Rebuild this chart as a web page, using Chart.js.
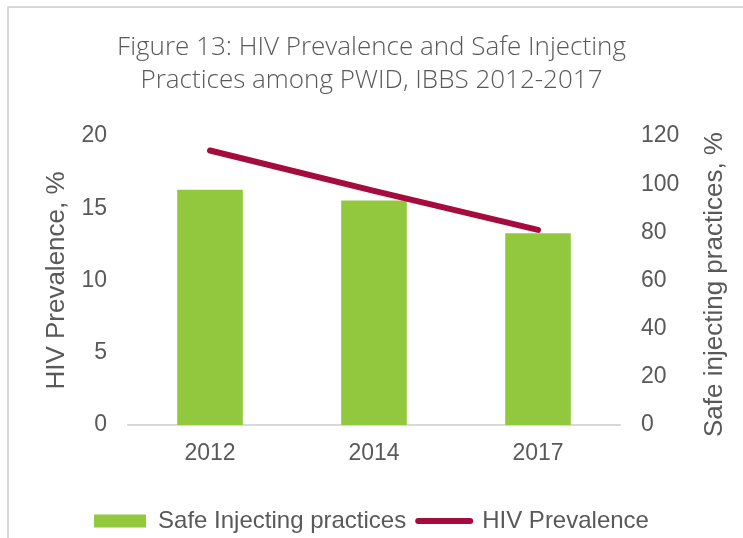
<!DOCTYPE html>
<html>
<head>
<meta charset="utf-8">
<script src="https://cdn.jsdelivr.net/npm/chart.js@4"></script>
<style>
    html, body { margin: 0; padding: 0; background: #fff; }
    #frame {
        position: absolute; left: 7px; top: 6px; width: 800px; height: 600px;
        border: 2px solid #d9d9d9; box-sizing: border-box;
    }
    #wrap { position: absolute; left: 0; top: 0; width: 743px; height: 538px; }
</style>
</head>
<body>
<div id="frame"></div>
<div id="wrap"><canvas id="fig13"></canvas></div>
<script>
// data
const years = ["2012", "2014", "2017"];
const safeInjecting = [97.7, 93.2, 79.6];   // right axis, %
const hivPrevalence = [19.0, 16.2, 13.5];   // left axis, %

const titleLines = ["Figure 13: HIV Prevalence and Safe Injecting", "Practices among PWID, IBBS 2012-2017"];
const leftTitle = "HIV Prevalence, %";
const rightTitle = "Safe injecting practices, %";

const GREEN = "#92c83e";
const RED = "#a50b3d";
const GREY = "#595959";
const font_family = "'Liberation Sans', Arial, sans-serif";

// right axis title reads bottom-to-top like the left one, so draw it by hand
const rightTitlePlugin = {
    id: "rightTitle",
    afterDraw(chart) {
        const ctx = chart.ctx;
        const area = chart.chartArea;
        ctx.save();
        ctx.translate(715, (area.top + area.bottom) / 2 + 4);
        ctx.rotate(-Math.PI / 2);
        ctx.font = "26px " + font_family;
        ctx.fillStyle = GREY;
        ctx.textAlign = "center";
        ctx.textBaseline = "middle";
        ctx.fillText(rightTitle, 0, 0);
        ctx.restore();
    }
};

const data = {
    labels: years,
    datasets: [{
        type: "bar",
        label: "Safe Injecting practices",
        data: safeInjecting,
        backgroundColor: GREEN,
        yAxisID: "y1",
        barPercentage: 0.4,
        categoryPercentage: 1,
        order: 2
    }, {
        type: "line",
        label: "HIV Prevalence",
        data: hivPrevalence,
        borderColor: RED,
        backgroundColor: RED,
        borderWidth: 6,
        borderCapStyle: "round",
        pointRadius: 0,
        yAxisID: "y",
        order: 1
    }]
};

const config = {
    data: data,
    plugins: [rightTitlePlugin],
    options: {
        responsive: false,
        animation: false,
        layout: { padding: { left: 0, right: 0, top: 0, bottom: -5 } },
        plugins: {
            title: {
                display: true,
                text: titleLines,
                color: GREY,
                font: { family: "'Open Sans', sans-serif", size: 26, weight: 300, lineHeight: 1.27 },
                padding: { top: 31, bottom: 39 }
            },
            legend: {
                position: "bottom",
                labels: {
                    color: GREY,
                    font: { family: font_family, size: 24 },
                    usePointStyle: true,
                    pointStyleWidth: 52,
                    boxHeight: 13,
                    padding: 12,
                    generateLabels(chart) {
                        return chart.data.datasets.map((ds, i) => ({
                            text: ds.label,
                            datasetIndex: i,
                            fillStyle: ds.backgroundColor,
                            strokeStyle: ds.type === "line" ? ds.borderColor : ds.backgroundColor,
                            lineWidth: ds.type === "line" ? 6 : 0,
                            lineCap: "round",
                            pointStyle: ds.type === "line" ? "line" : "rect",
                            fontColor: GREY,
                            hidden: false
                        }));
                    }
                }
            },
            tooltip: { enabled: false }
        },
        scales: {
            x: {
                grid: { display: false, drawTicks: false },
                border: { display: true, color: "#d9d9d9", width: 2 },
                ticks: { color: GREY, font: { family: font_family, size: 23 }, padding: 15 },
                afterFit(scale) { scale.height = 72; }
            },
            y: {
                position: "left",
                min: 0,
                max: 20,
                grid: { display: false, drawTicks: false },
                border: { display: false },
                ticks: { stepSize: 5, color: GREY, font: { family: font_family, size: 23 }, padding: 21 },
                title: {
                    display: true,
                    text: leftTitle,
                    color: GREY,
                    font: { family: font_family, size: 26 },
                    padding: { top: 41, bottom: 0 }
                },
                afterFit(scale) { scale.width = 128; }
            },
            y1: {
                position: "right",
                min: 0,
                max: 120,
                grid: { display: false, drawTicks: false },
                border: { display: false },
                ticks: { stepSize: 20, color: GREY, font: { family: font_family, size: 23 }, padding: 21 },
                afterFit(scale) { scale.width = 123; }
            }
        }
    }
};

const canvas = document.getElementById("fig13");
canvas.width = 743;
canvas.height = 538;
window.fig13_chart = new Chart(canvas, config);
</script>
</body>
</html>
